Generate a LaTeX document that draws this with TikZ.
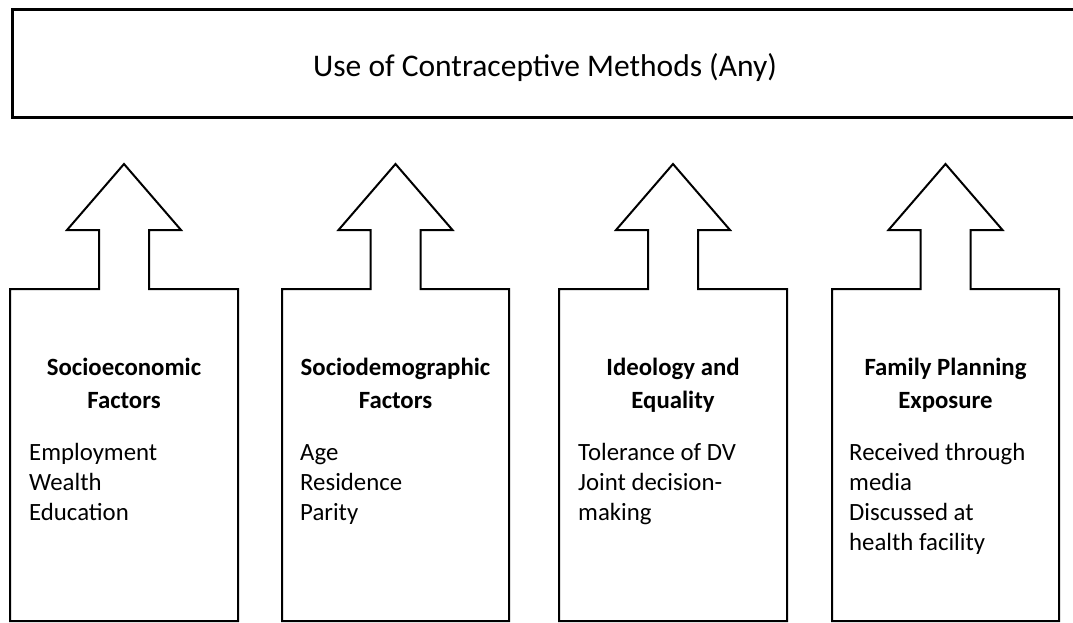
\documentclass[tikz,border=0pt]{standalone}
\usepackage{fontspec}
\setmainfont{Carlito}
\begin{document}
\begin{tikzpicture}[x=1pt,y=-1pt,
  shapeline/.style={draw=black,line width=2pt,line join=miter},
  headtext/.style={font=\fontsize{24.8}{33}\selectfont\bfseries,align=center,anchor=base,inner sep=0pt},
  bodytext/.style={font=\fontsize{24.8}{30.3}\selectfont,align=left,anchor=base west,inner sep=0pt},
  titletext/.style={font=\fontsize{31.5}{36}\selectfont,inner sep=0pt,anchor=base}]
\useasboundingbox (0,0) rectangle (1073,622);
\clip (0,0) rectangle (1073,622);
% top box
\node[draw=black,line width=2.5pt,minimum width=1069pt,minimum height=108pt,anchor=north west,inner sep=0pt] (top) at (11,8) {};
\node[titletext] (title) at (545,76) {Use of Contraceptive Methods (Any)};
% arrow-boxes
\foreach \n/\L/\R/\c in {1/10/238/124, 2/282/509/395.5, 3/559/787/673, 4/832/1059/945.5}{
  \coordinate (apex\n) at (\c,164);
  \draw[shapeline] (\L,621) -- (\L,289) -- (\c-25,289) -- (\c-25,230) -- (\c-57,230)
     -- (apex\n) -- (\c+57,230) -- (\c+25,230) -- (\c+25,289) -- (\R,289) -- (\R,621) -- cycle;
}
% headings (base anchor = last line)
\node[headtext] (h1) at (124,408) {Socioeconomic\\Factors};
\node[headtext] (h2) at (395.5,408) {Sociodemographic\\Factors};
\node[headtext] (h3) at (673,408) {Ideology and\\Equality};
\node[headtext] (h4) at (945.5,408) {Family Planning\\Exposure};
% bodies (base anchor = last line)
\node[bodytext] (b1) at (29,520.6) {Employment\\Wealth\\Education};
\node[bodytext] (b2) at (300,520.6) {Age\\Residence\\Parity};
\node[bodytext] (b3) at (578,520.6) {Tolerance of DV\\Joint decision-\\making};
\node[bodytext] (b4) at (849,550.9) {Received through\\media\\Discussed at\\health facility};
\end{tikzpicture}
\end{document}
